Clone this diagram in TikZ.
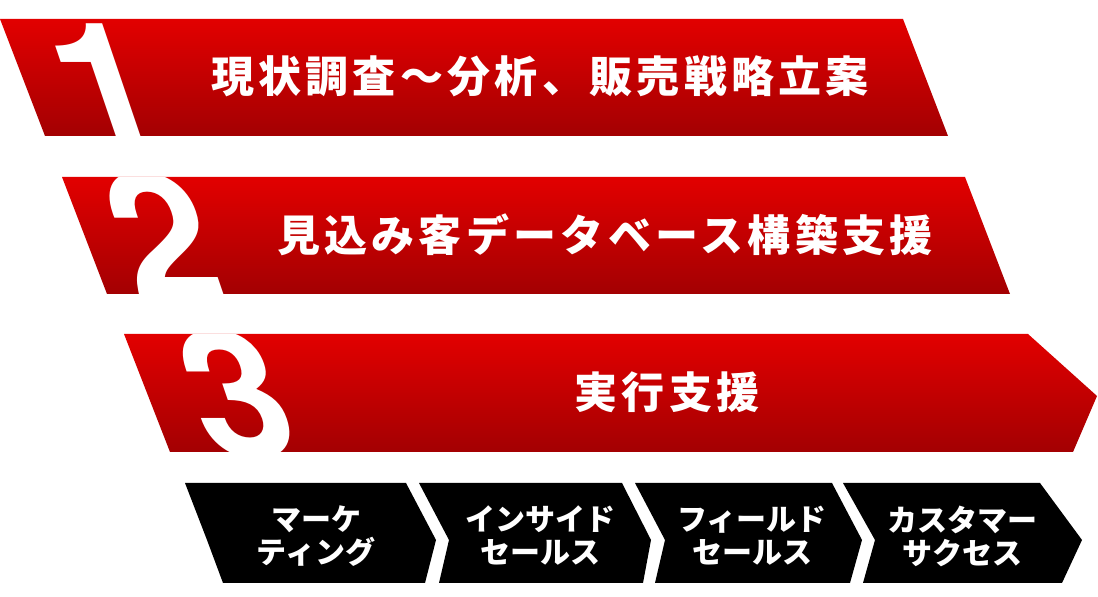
\documentclass[tikz,border=0pt]{standalone}
\usepackage{fontspec}
\newfontfamily\jpfont{Noto Sans CJK JP}
\newfontfamily\jpwide{Noto Sans CJK JP}[LetterSpace=10]
\newfontfamily\numfont{TeX Gyre Heros}
\definecolor{bandtop}{RGB}{226,0,0}
\definecolor{bandbot}{RGB}{163,0,2}

\begin{document}
\begin{tikzpicture}[x=0.5pt,y=-0.5pt,
	band/.style={top color=bandtop, bottom color=bandbot},
	digit/.style={text=white, inner sep=0pt, anchor=base, xslant=-0.34, transform shape,
		font=\numfont\bfseries\fontsize{88pt}{88pt}\selectfont},
	bandtext/.style={text=white, inner sep=0pt, font=\jpwide\bfseries\fontsize{21.5pt}{24pt}\selectfont},
	chev/.style={fill=black},
	chevtext/.style={text=white, inner sep=0pt, align=center, font=\jpfont\bfseries\fontsize{15pt}{16.5pt}\selectfont}]
	\useasboundingbox (0,0) rectangle (1098,597);
	% red bands with the step numbers
	\begin{scope}
		\clip (0,19) -- (903,19) -- (948,136) -- (45,136) -- cycle;
		\shade[band] (0,19) rectangle (1098,136);
		\node[digit] (n1) at (127,149) {1};
	\end{scope}
	\begin{scope}
		\clip (62,177) -- (965,177) -- (1010,294) -- (107,294) -- cycle;
		\shade[band] (0,177) rectangle (1098,294);
		\node[digit] (n2) at (184,300) {2};
	\end{scope}
	\begin{scope}
		\clip (124,334) -- (1028,334) -- (1097,396) -- (1073,452) -- (170,452) -- cycle;
		\shade[band] (0,334) rectangle (1098,452);
		\node[digit] (n3) at (258,458) {3};
	\end{scope}
	\node[bandtext] (t1) at (540,76) {現状調査～分析、販売戦略立案};
	\node[bandtext] (t2) at (605,235) {見込み客データベース構築支援};
	\node[bandtext] (t3) at (667,392) {実行支援};
	% black chevrons
	\foreach \lt/\ln/\lb/\rt/\rn/\rb in {185/207/223/406/436/425, 419/449/439/622/651/643,
			635/665/655/832/862/850, 843/875/863/1040/1082/1062}
		\fill[chev] (\lt,483) -- (\rt,483) -- (\rn,540) -- (\rb,583) -- (\lb,583) -- (\ln,540) -- cycle;
	\foreach \x/\t [count=\i] in {316/{マーケ\\ティング}, 540/{インサイド\\セールス},
			752/{フィールド\\セールス}, 962/{カスタマー\\サクセス}}
		\node[chevtext] (c\i) at (\x,536) {\t};
\end{tikzpicture}
\end{document}
